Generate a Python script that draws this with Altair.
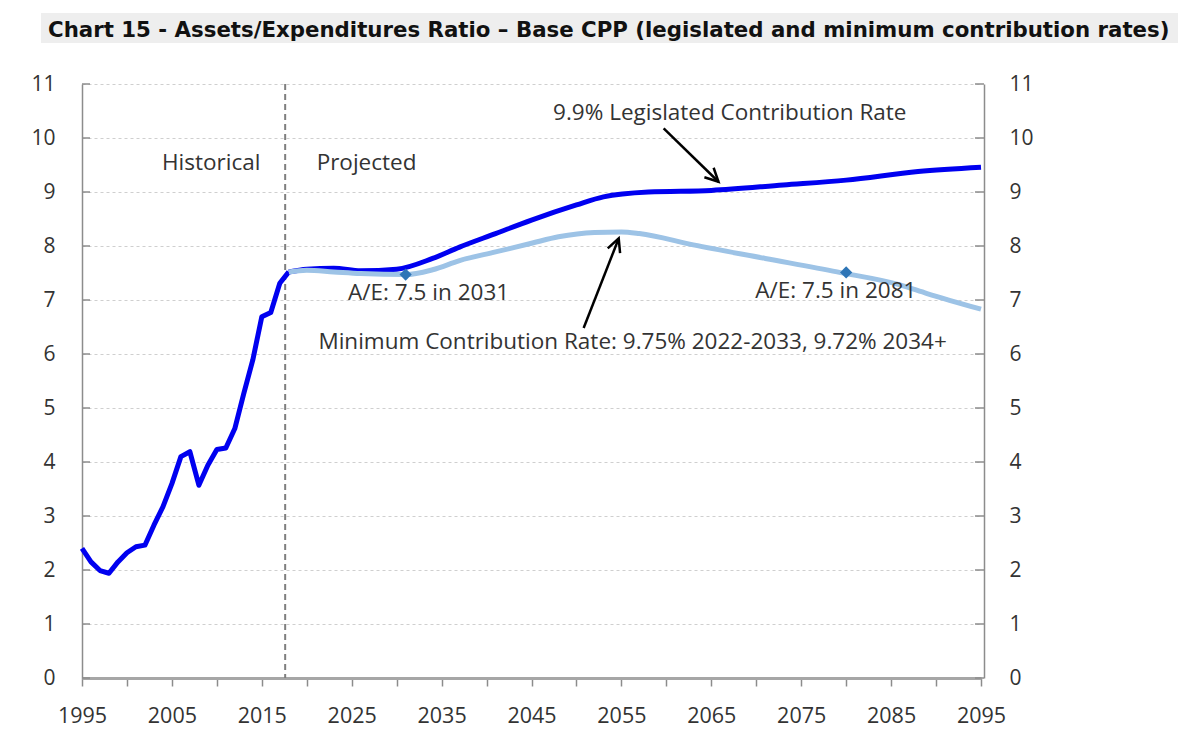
import altair as alt
import pandas as pd

# ---------------- data ----------------
title_text = "Chart 15 - Assets/Expenditures Ratio \u2013 Base CPP (legislated and minimum contribution rates)"

hist_years = list(range(1995, 2019))
hist_values = [2.40, 2.15, 1.99, 1.94, 2.15, 2.32, 2.43, 2.46, 2.83, 3.17, 3.60, 4.10,
               4.19, 3.57, 3.94, 4.23, 4.26, 4.62, 5.27, 5.89, 6.69, 6.77, 7.31, 7.52]

leg_years = [2018, 2020, 2023, 2026, 2030, 2034, 2037, 2041, 2045, 2050, 2053, 2058,
             2065, 2073, 2080, 2088, 2095]
leg_values = [7.52, 7.57, 7.59, 7.54, 7.57, 7.77, 7.98, 8.23, 8.48, 8.76, 8.91, 9.00,
              9.03, 9.13, 9.22, 9.38, 9.46]

min_years = [2018, 2020, 2023, 2026, 2031, 2034, 2037, 2041, 2045, 2048, 2052, 2055,
             2057, 2063, 2071, 2079, 2086, 2089, 2095]
min_values = [7.52, 7.55, 7.52, 7.49, 7.47, 7.56, 7.73, 7.89, 8.05, 8.17, 8.25, 8.26,
              8.23, 8.02, 7.77, 7.52, 7.28, 7.12, 6.83]

marker_years = [2031, 2080]
marker_values = [7.47, 7.51]

divider_year = [2017.6]

y_ticks = list(range(0, 12))
x_ticks = list(range(1995, 2096, 5))

ann_texts = ["Historical", "Projected", "9.9% Legislated Contribution Rate",
             "A/E: 7.5 in 2031", "A/E: 7.5 in 2081",
             "Minimum Contribution Rate: 9.75% 2022-2033, 9.72% 2034+"]
ann_x = [2003.9, 2021.1, 2047.4, 2024.6, 2069.9, 2021.3]
ann_y = [9.41, 9.41, 10.33, 7.00, 7.03, 6.10]

arrow_x = [2059.7, 2050.8]
arrow_y = [10.18, 6.48]
arrow_x2 = [2065.8, 2054.7]
arrow_y2 = [9.19, 8.14]
arrow_angle = [134.2, 21.2]

# ---------------- styles ----------------
DARK = "#0000f0"
LIGHT = "#9dc3e6"
MARK = "#2e75b6"
TXT = "#333333"
AXC = "#8c8c8c"
FONT = "Open Sans"

W, H = 899, 594
xs = alt.Scale(domain=[1995, 2095], nice=False, zero=False)
ys = alt.Scale(domain=[0, 11], nice=False, zero=True)

hist_df = pd.DataFrame({"year": hist_years, "value": hist_values})
leg_df = pd.DataFrame({"year": leg_years, "value": leg_values})
min_df = pd.DataFrame({"year": min_years, "value": min_values})
mk_df = pd.DataFrame({"year": marker_years, "value": marker_values})
div_df = pd.DataFrame({"year": divider_year, "top": [11], "bottom": [0]})
tick_df = pd.DataFrame({"v": y_ticks})
ann_df = pd.DataFrame({"text": ann_texts, "year": ann_x, "value": ann_y})
arr_df = pd.DataFrame({"x": arrow_x, "y": arrow_y, "x2": arrow_x2, "y2": arrow_y2,
                       "angle": arrow_angle})
title_df = pd.DataFrame({"t": [title_text]})

x_axis = alt.Axis(values=x_ticks, format="d",
                  labelExpr="(datum.value - 1995) % 10 == 0 ? datum.label : ''",
                  tickSize=8, tickColor=AXC, tickWidth=1.5,
                  domainColor="#a6a6a6", domainWidth=3,
                  labelFont=FONT, labelFontSize=21.5, labelColor=TXT,
                  labelPadding=19, grid=False, title=None, labelFlush=False)

left_axis = alt.Axis(orient="left", values=y_ticks, ticks=False, tickSize=0,
                     domainColor=AXC, domainWidth=1.5,
                     labelFont=FONT, labelFontSize=21, labelColor=TXT, labelPadding=27,
                     grid=True, gridDash=[3, 3], gridColor="#cfcfcf", gridWidth=1,
                     title=None)
right_axis = alt.Axis(orient="right", values=y_ticks, ticks=False, tickSize=0,
                      domainColor=AXC, domainWidth=1.5, offset=3,
                      labelFont=FONT, labelFontSize=21, labelColor=TXT, labelPadding=25,
                      labelAlign="left", grid=False, title=None)


def X(field):
    return alt.X(field, scale=xs, axis=x_axis)


def Y(field):
    return alt.Y(field, scale=ys, axis=None)


title_bg = alt.Chart(title_df).mark_rect(color="#eeeeee").encode(
    x=alt.value(-41), x2=alt.value(1096), y=alt.value(-71), y2=alt.value(-41))
title_txt = alt.Chart(title_df).mark_text(
    align="left", baseline="alphabetic", font="DejaVu Sans", fontWeight="bold",
    fontSize=21.3, color="#111111").encode(
    x=alt.value(-34), y=alt.value(-47), text="t:N")

left_ticks = alt.Chart(tick_df).mark_rule(color=AXC, strokeWidth=1.5).encode(
    y=alt.Y("v:Q", scale=ys, axis=left_axis), x=alt.value(0), x2=alt.value(8))
right_ticks = alt.Chart(tick_df).mark_rule(color=AXC, strokeWidth=1.5).encode(
    y=alt.Y("v:Q", scale=ys, axis=right_axis), x=alt.value(893), x2=alt.value(902))

divider = alt.Chart(div_df).mark_rule(color="#7f7f7f", strokeWidth=2,
                                      strokeDash=[6, 4]).encode(
    x=X("year:Q"), y=Y("top:Q"), y2="bottom:Q")

hist_line = alt.Chart(hist_df).mark_line(color=DARK, strokeWidth=5,
                                         strokeJoin="round").encode(
    x=X("year:Q"), y=Y("value:Q"))
leg_line = alt.Chart(leg_df).mark_line(color=DARK, strokeWidth=5,
                                       interpolate="monotone").encode(
    x=X("year:Q"), y=Y("value:Q"))
min_line = alt.Chart(min_df).mark_line(color=LIGHT, strokeWidth=5,
                                       interpolate="monotone").encode(
    x=X("year:Q"), y=Y("value:Q"))
markers = alt.Chart(mk_df).mark_point(shape="diamond", filled=True, size=150,
                                      color=MARK, opacity=1).encode(
    x=X("year:Q"), y=Y("value:Q"))

shafts = alt.Chart(arr_df).mark_rule(color="black", strokeWidth=2.5).encode(
    x=X("x:Q"), y=Y("y:Q"), x2="x2:Q", y2="y2:Q")
heads = alt.Chart(arr_df).mark_point(shape="M -0.5 1 L 0 0 L 0.5 1", filled=False,
                                     size=700, strokeWidth=2.5, color="black",
                                     opacity=1).encode(
    x=X("x2:Q"), y=Y("y2:Q"), angle=alt.Angle("angle:Q", scale=None))

labels = alt.Chart(ann_df).mark_text(align="left", baseline="alphabetic", font=FONT,
                                     fontSize=22.5, color=TXT).encode(
    x=X("year:Q"), y=Y("value:Q"), text="text:N")

chart = alt.layer(
    title_bg, title_txt, left_ticks, right_ticks, divider, hist_line, leg_line,
    min_line, markers, shafts, heads, labels
).resolve_scale(y="shared", x="shared").resolve_axis(y="independent").properties(
    width=W, height=H,
    autosize=alt.AutoSizeParams(type="none"),
    padding={"left": 74, "top": 76, "right": 211, "bottom": 62},
    background="white",
).configure_view(stroke=None)

chart.save("out.html", embed_options={"renderer": "svg", "actions": False})
